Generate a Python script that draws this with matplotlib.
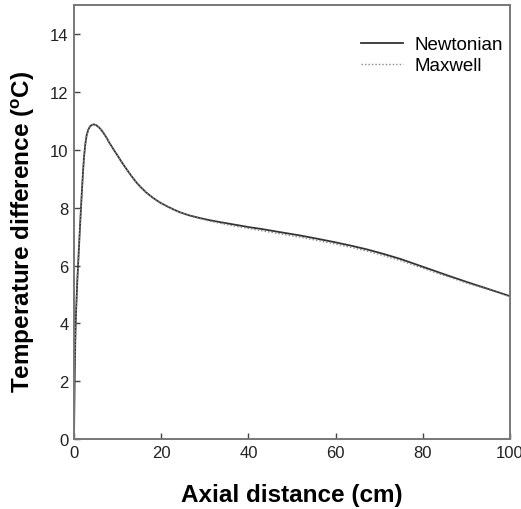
import matplotlib.pyplot as plt

plt.rcParams['font.family'] = ['Liberation Sans', 'DejaVu Sans']

# axial distance (cm)
axial_cm = [0, 0.15, 0.3, 0.45, 0.77, 1.1, 1.4, 1.68, 1.9, 2.1, 2.3, 2.6,
            2.9, 3.3, 3.67, 4.1, 4.6, 5.1, 5.7, 6.3, 6.9, 7.5, 8.0, 8.6, 9.2,
            10.0, 10.7, 11.5, 12.2, 13.0, 13.8, 14.5, 15.3, 16.6, 18.2, 19.7,
            21.3, 22.8, 24.3, 26.5, 28.9, 31, 33.5, 35.8, 38.1, 40.4, 42.7,
            47, 51.8, 56, 60, 64, 67.1, 71, 74.8, 78.6, 82.4, 86, 90.1, 95,
            100]

# temperature difference (deg C)
newtonian = [0, 2.0, 3.4, 4.3, 5.5, 6.5, 7.4, 8.2, 8.8, 9.3, 9.75, 10.2,
             10.5, 10.7, 10.81, 10.86, 10.88, 10.85, 10.78, 10.68, 10.55,
             10.41, 10.27, 10.13, 9.98, 9.8, 9.63, 9.45, 9.3, 9.13, 8.97,
             8.84, 8.71, 8.52, 8.33, 8.18, 8.05, 7.94, 7.84, 7.73, 7.64, 7.57,
             7.5, 7.44, 7.38, 7.32, 7.27, 7.16, 7.04, 6.92, 6.8, 6.67, 6.56,
             6.4, 6.23, 6.03, 5.83, 5.64, 5.43, 5.19, 4.94]

maxwell = [0, 2.0, 3.4, 4.3, 5.5, 6.5, 7.4, 8.2, 8.8, 9.3, 9.75, 10.2,
           10.5, 10.7, 10.81, 10.86, 10.88, 10.85, 10.78, 10.68, 10.55,
           10.41, 10.27, 10.13, 9.98, 9.8, 9.63, 9.45, 9.3, 9.13, 8.97,
           8.84, 8.71, 8.52, 8.33, 8.18, 8.05, 7.94, 7.84, 7.72, 7.62, 7.54,
           7.46, 7.39, 7.33, 7.27, 7.21, 7.1, 6.98, 6.86, 6.74, 6.61, 6.5,
           6.34, 6.17, 5.98, 5.78, 5.6, 5.39, 5.17, 4.92]

fig = plt.figure(figsize=(5.21, 5.10), dpi=100)
ax = fig.add_axes([0.142, 0.137, 0.837, 0.851])

ax.plot(axial_cm, newtonian, color='#333333', lw=1.3, label='Newtonian')
ax.plot(axial_cm, maxwell, color='#888888', lw=1.0, ls=(0, (1, 1.5)),
        label='Maxwell')

ax.set_xlim(0, 100)
ax.set_ylim(0, 15)
ax.set_xticks([0, 20, 40, 60, 80, 100])
ax.set_yticks([0, 2, 4, 6, 8, 10, 12, 14])

for s in ax.spines.values():
    s.set_color('#777777')
    s.set_linewidth(1.4)
ax.tick_params(direction='in', length=4, width=1, color='#444444',
               labelsize=12, labelcolor='#222222', pad=4)

ax.set_xlabel('Axial distance (cm)', fontsize=17.5, fontweight='bold',
              labelpad=17)
ax.set_ylabel('Temperature difference ($\\mathregular{^oC}$)', fontsize=17.5,
              fontweight='bold', labelpad=9)
ax.yaxis.label.set_y(0.48)

ax.legend(loc='upper right', bbox_to_anchor=(1.023, 0.967), frameon=False,
          fontsize=13.5, handlelength=2.2, handletextpad=0.64,
          labelspacing=0.2)

plt.savefig('out.png', dpi=100)
